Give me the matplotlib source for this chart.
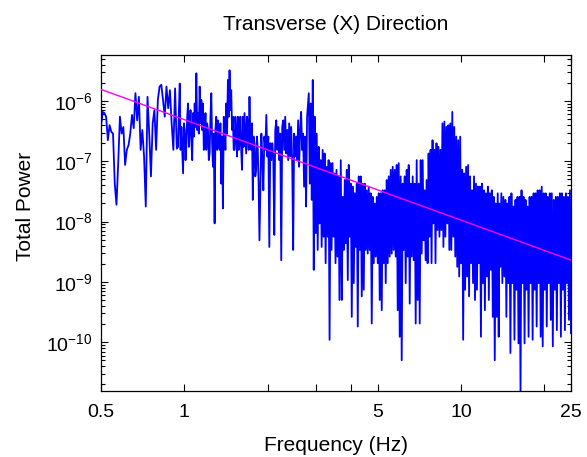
import numpy as np
import matplotlib
matplotlib.use("Agg")
import matplotlib.pyplot as plt
from matplotlib.ticker import FixedLocator, FixedFormatter, NullLocator, NullFormatter

plt.rcParams['font.family'] = ['Liberation Sans', 'DejaVu Sans']

# Power spectrum, stored as log10(power) per band; samples in each band are
# evenly spaced in log frequency between the band edges (Hz).
band_a_hz = (0.50, 0.94)
band_a_logp = [-6.43, -6.18, -6.20, -6.26, -6.65, -6.40, -6.51, -6.54, -7.37, -7.72,
               -7.03, -6.26, -6.54, -6.43, -7.06, -6.81, -6.73, -6.54, -6.23, -6.45,
               -5.87, -6.32, -5.93, -6.81, -6.48, -6.92, -7.75, -5.93, -6.54, -7.25,
               -6.37, -6.15, -6.81, -5.98, -5.76, -5.73, -5.98, -6.26, -5.76, -6.12,
               -5.82, -6.37, -6.81, -5.79, -6.79]

band_b_hz = (0.95, 1.87)
band_b_logp = [-6.76, -6.15, -5.71, -6.81, -6.43, -6.81, -7.20, -6.37, -6.48, -6.98,
               -6.70, -6.26, -6.04, -6.76, -6.48, -6.15, -6.65, -6.98, -6.20, -6.59,
               -6.04, -6.43, -5.54, -6.48, -6.20, -6.54, -5.76, -6.37, -5.98, -6.48,
               -6.04, -6.81, -6.54, -6.20, -6.81, -6.37, -6.48, -6.98, -6.87, -6.26,
               -5.87, -6.70, -7.09, -6.54, -8.03, -6.48, -6.26, -6.81, -6.32, -6.70,
               -6.81, -6.37, -7.37, -6.59, -7.78, -6.26, -6.43, -6.81, -6.04, -6.54,
               -5.65, -6.26, -5.49, -6.15, -5.82, -6.48, -6.26, -6.81, -6.81, -6.26,
               -6.54, -6.92, -6.26, -6.81, -6.70, -6.26, -6.81, -7.14, -6.26, -6.76,
               -6.20, -6.54, -6.87, -6.26, -6.37, -6.81, -5.93, -6.59, -6.81, -6.37,
               -7.64, -6.59, -6.70, -7.25, -7.14, -6.59, -6.81, -7.37, -8.31]

band_c_hz = (1.90, 2.78)
band_c_logp = [-6.54, -6.98, -7.48, -6.59, -6.81, -6.23, -6.92, -6.59, -8.42, -6.70,
               -6.98, -6.70, -6.92, -8.22, -6.48, -6.32, -6.81, -6.43, -6.98, -6.54,
               -8.64, -6.43, -6.32, -6.81, -6.26, -6.87, -6.48, -6.98, -6.37, -6.92,
               -6.43, -6.98, -8.47, -6.54, -6.92, -6.59, -6.98, -6.32, -7.09, -6.48,
               -6.18, -6.81, -6.54, -7.42, -6.59, -7.75, -6.26]

band_d_hz = (2.82, 3.64)
band_d_logp = [-5.87, -7.37, -6.04, -7.64, -5.65, -8.80, -6.26, -8.19, -6.54, -8.47,
               -6.76, -8.03, -6.98, -8.42, -6.81, -8.25, -6.87, -8.69, -7.09, -8.25,
               -6.98, -9.96, -7.03, -8.47, -7.03, -8.25, -7.20, -8.69, -7.14, -8.58,
               -7.25, -9.30]

band_e_hz = (3.68, 6.98)
band_e_logp = [-6.98, -9.30, -7.59, -8.47, -7.31, -8.36, -7.14, -8.97, -7.06, -8.25,
               -7.37, -9.58, -7.42, -9.02, -7.53, -8.42, -7.37, -9.74, -7.25, -8.47,
               -7.25, -9.24, -7.37, -9.13, -7.37, -8.47, -7.48, -8.53, -7.42, -8.47,
               -7.53, -9.69, -7.59, -8.69, -7.70, -8.58, -7.59, -8.69, -7.53, -9.30,
               -7.53, -9.47, -7.48, -8.69, -7.48, -9.02, -7.31, -8.69, -7.25, -8.58,
               -7.14, -8.53, -7.09, -8.47, -7.14, -8.58, -7.06, -9.47, -7.03, -9.91,
               -7.25, -10.30, -7.37, -8.47, -7.25, -9.02, -7.14, -8.58, -7.06, -9.36,
               -7.37, -8.58, -7.25, -8.64, -7.37, -9.69, -6.98, -9.30]

band_f_hz = (7.04, 13.7)
band_f_logp = [-7.37, -9.69, -6.98, -8.53, -6.98, -8.31, -7.48, -8.64, -7.31, -8.69,
               -6.87, -8.25, -6.81, -8.69, -6.65, -8.03, -6.81, -8.69, -6.70, -8.14,
               -6.76, -8.25, -6.81, -8.14, -6.37, -8.42, -6.34, -8.25, -6.43, -8.03,
               -6.40, -8.47, -6.37, -8.47, -6.18, -8.25, -6.43, -8.58, -6.59, -8.75,
               -6.65, -8.91, -6.59, -8.69, -7.14, -9.96, -7.20, -9.13, -7.09, -8.91,
               -7.06, -9.24, -7.25, -8.69, -7.48, -9.02, -7.25, -9.30, -7.37, -9.13,
               -7.42, -8.69, -7.42, -9.91, -7.37, -9.02, -7.48, -9.47, -7.53, -8.91,
               -7.42, -9.30, -7.53, -8.80, -7.48, -9.58, -7.59, -10.30, -7.70, -9.58,
               -7.53, -9.91]

band_g_hz = (13.77, 25.0)
band_g_logp = [-7.70, -8.75, -7.53, -9.02, -7.59, -8.91, -7.64, -9.58, -7.70, -9.02,
               -7.59, -10.18, -7.53, -9.02, -7.75, -9.96, -7.64, -9.13, -7.59, -10.02,
               -7.59, -10.85, -7.48, -9.02, -7.59, -10.02, -7.64, -9.13, -7.75, -9.91,
               -7.59, -9.02, -7.59, -9.96, -7.53, -9.13, -7.53, -9.74, -7.48, -9.02,
               -7.48, -9.91, -7.42, -10.07, -7.53, -9.13, -7.53, -9.74, -7.59, -9.02,
               -7.53, -9.63, -7.53, -10.07, -7.64, -9.13, -7.59, -9.80, -7.59, -9.02,
               -7.53, -9.91, -7.53, -9.13, -7.59, -9.80, -7.53, -9.02, -7.59, -9.63,
               -7.48, -9.85]

bands = [(band_a_hz, band_a_logp), (band_b_hz, band_b_logp), (band_c_hz, band_c_logp),
         (band_d_hz, band_d_logp), (band_e_hz, band_e_logp), (band_f_hz, band_f_logp),
         (band_g_hz, band_g_logp)]

# Power-law fit, end points
fit_freq = [0.5, 25.0]
fit_power = [1.56e-6, 2.3e-9]

xtick_values = [0.5, 1, 2, 3, 4, 5, 10, 20, 25]
xtick_labels = ['0.5', '1', '', '', '', '5', '10', '', '25']
ytick_values = [1e-10, 1e-9, 1e-8, 1e-7, 1e-6]
ytick_labels = [r'$\mathregular{10^{-10}}$', r'$\mathregular{10^{-9}}$',
                r'$\mathregular{10^{-8}}$', r'$\mathregular{10^{-7}}$',
                r'$\mathregular{10^{-6}}$']

freq = np.concatenate([np.geomspace(lo, hi, len(v)) for (lo, hi), v in bands])
power = 10.0 ** np.concatenate([np.asarray(v, float) for _, v in bands])

fig = plt.figure(figsize=(5.87, 4.57), dpi=100)
ax = fig.add_axes([0.172, 0.1444, 0.8007, 0.7352])

ax.plot(freq, power, color=(0, 0, 1), lw=1.3, zorder=2)
ax.plot(fit_freq, fit_power, color=(1, 0, 1), lw=1.0, zorder=3)

ax.set_xscale('log')
ax.set_yscale('log')
ax.set_xlim(0.5, 25)
ax.set_ylim(1.55e-11, 5.8e-6)

ax.xaxis.set_major_locator(FixedLocator(xtick_values))
ax.xaxis.set_major_formatter(FixedFormatter(xtick_labels))
ax.xaxis.set_minor_locator(NullLocator())
ax.yaxis.set_major_locator(FixedLocator(ytick_values))
ax.yaxis.set_major_formatter(FixedFormatter(ytick_labels))
minor_y = [m * 10.0 ** e for e in range(-11, -5) for m in range(2, 10)]
minor_y = [v for v in minor_y if 1.55e-11 <= v <= 5.8e-6]
ax.yaxis.set_minor_locator(FixedLocator(minor_y))
ax.yaxis.set_minor_formatter(NullFormatter())

ax.tick_params(which='both', direction='in', top=True, right=True, labelsize=14, width=0.8)
ax.tick_params(which='major', length=5)
ax.tick_params(which='minor', length=3)
ax.tick_params(axis='x', pad=9)
ax.tick_params(axis='y', pad=6)
for s in ax.spines.values():
    s.set_linewidth(0.9)

ax.set_title('Transverse (X) Direction', fontsize=15, pad=18)
ax.set_xlabel('Frequency (Hz)', fontsize=15, labelpad=11)
ax.set_ylabel('Total Power', fontsize=15)
ax.yaxis.set_label_coords(-0.14, 0.548)

fig.savefig('out.png', dpi=100, facecolor='white')
